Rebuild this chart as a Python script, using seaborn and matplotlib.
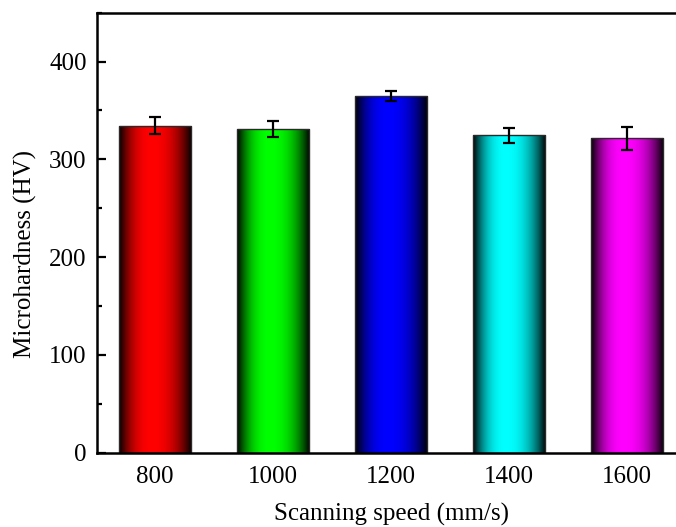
import numpy as np
import pandas as pd
import matplotlib
matplotlib.use("Agg")
import matplotlib.pyplot as plt
from matplotlib.ticker import MultipleLocator
import seaborn as sns

# ---- data ----
speeds = ["800", "1000", "1200", "1400", "1600"]
hardness = [334.5, 331.0, 365.0, 324.6, 321.6]
errors = [8.7, 8.2, 5.1, 7.7, 12.0]
colors = ["#ff0000", "#00ff00", "#0000ff", "#00ffff", "#ff00ff"]
yticks = [0, 100, 200, 300, 400]

sns.set_theme(style="ticks")
plt.rcParams["font.family"] = ["Liberation Serif", "DejaVu Serif"]

fig = plt.figure(figsize=(6.76, 5.27), dpi=100)
ax = fig.add_axes([97 / 676, 1 - 452.7 / 527, 588 / 676, 440 / 527])

df = pd.DataFrame({"speed": speeds, "hardness": hardness})
sns.barplot(data=df, x="speed", y="hardness", hue="speed", palette=colors,
            legend=False, width=0.61, edgecolor="#2a2a2a", linewidth=1.0,
            saturation=1, errorbar=None, ax=ax)

# horizontal gradient shading on each bar
def profile(t, peak=0.45, p=2.3):
    left = np.abs(t - peak) / peak
    right = np.abs(t - peak) / (1 - peak)
    d = np.where(t < peak, left, right)
    return np.clip(1 - d ** p, 0.03, 1)

t = np.linspace(0, 1, 256)
prof = profile(t)
centers = []
for patch in ax.patches:
    x0, y0 = patch.get_x(), patch.get_y()
    w, h = patch.get_width(), patch.get_height()
    centers.append(x0 + w / 2)
    rgb = np.array(patch.get_facecolor()[:3])
    img = prof[None, :, None] * rgb[None, None, :]
    im = ax.imshow(img, extent=[x0, x0 + w, y0, y0 + h], aspect="auto",
                   interpolation="bilinear", zorder=patch.get_zorder() - 0.1)
    im.set_clip_path(patch)
    patch.set_facecolor("none")

ax.errorbar(centers, hardness, yerr=errors, fmt="none", ecolor="black",
            elinewidth=1.6, capsize=4, capthick=1.6, zorder=5)

ax.set_xlim(-0.49, 4.49)
ax.set_ylim(0, 450)
ax.set_yticks(yticks)
ax.yaxis.set_minor_locator(MultipleLocator(50))
ax.tick_params(axis="y", which="major", direction="in", length=6.5, width=1.6,
               labelsize=18, pad=7.5, colors="black")
ax.tick_params(axis="y", which="minor", direction="in", length=3.5, width=1.6,
               colors="black")
ax.tick_params(axis="x", which="both", length=0, labelsize=18, pad=9.5,
               colors="black")
for s in ax.spines.values():
    s.set_visible(True)
    s.set_linewidth(1.8)
    s.set_color("black")

ax.set_xlabel("Scanning speed (mm/s)", fontsize=18, color="black", labelpad=11)
ax.set_ylabel("Microhardness (HV)", fontsize=18, color="black")
ax.yaxis.set_label_coords(-0.102, 0.4516)

fig.savefig("out.png", dpi=100, facecolor="white")
